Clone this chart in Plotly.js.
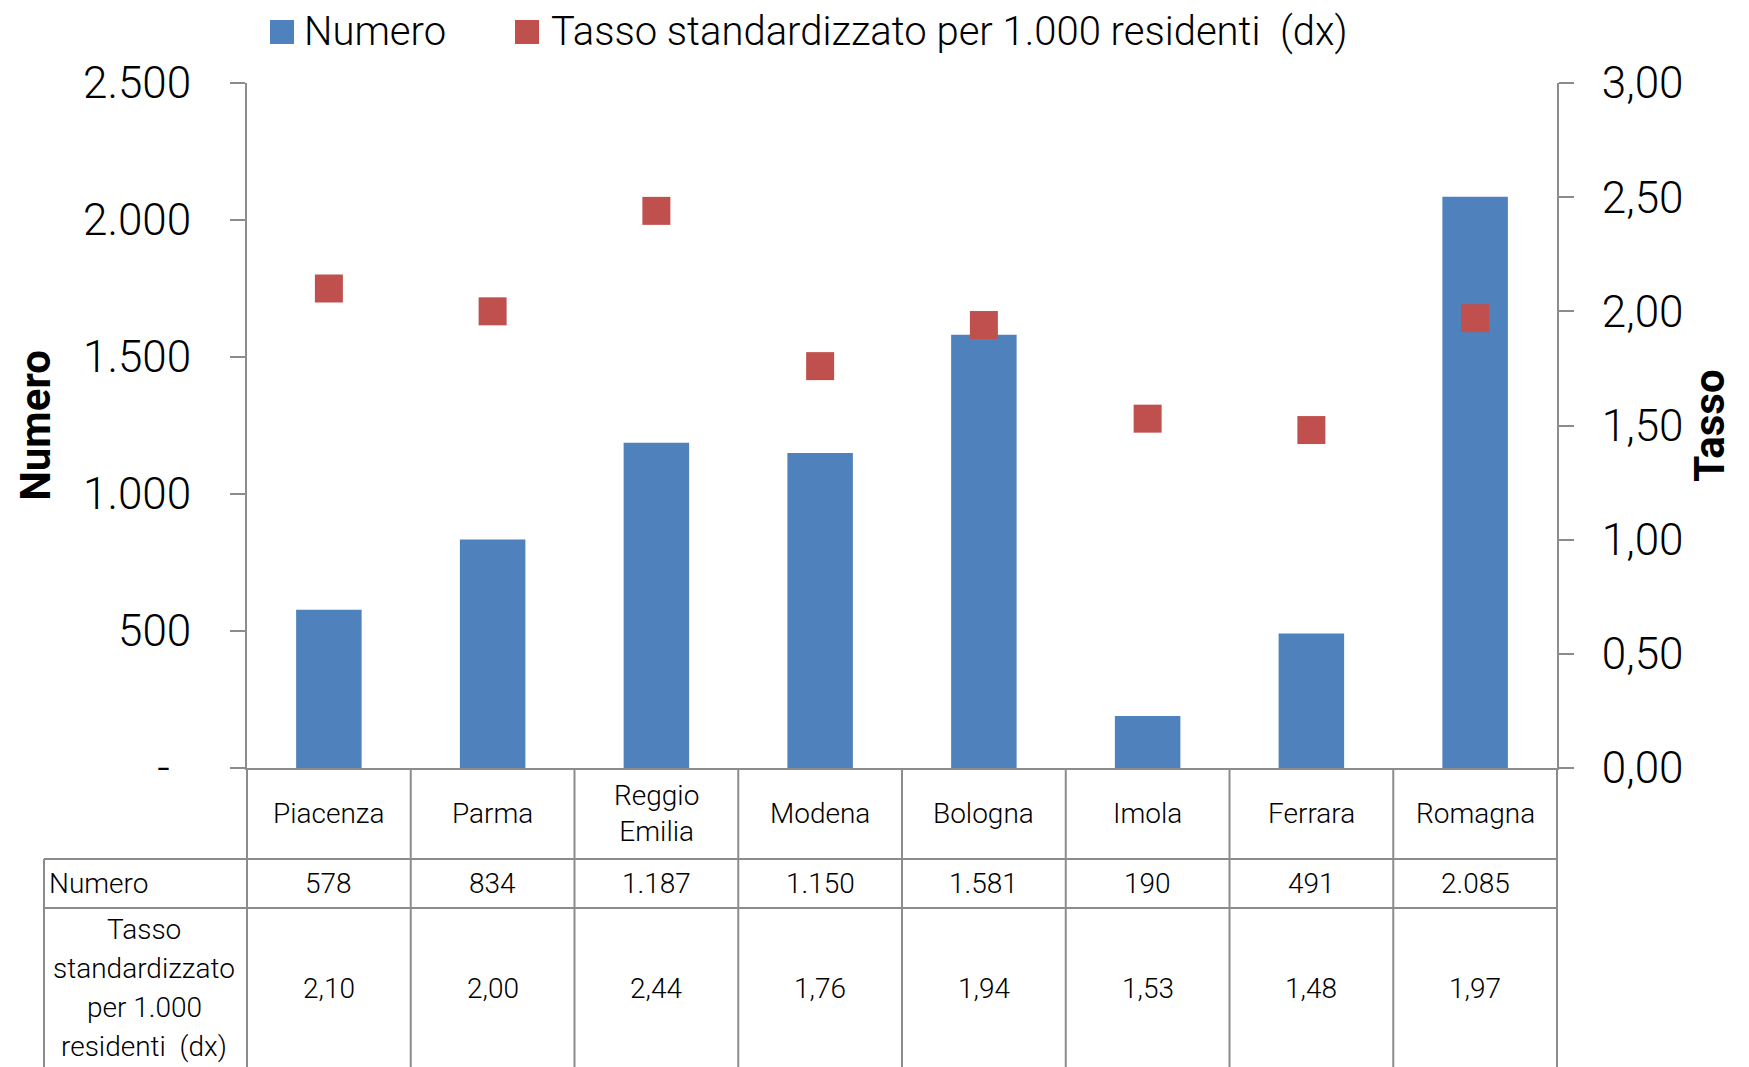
<!DOCTYPE html>
<html>
<head>
<meta charset="utf-8">
<script src="https://cdn.plot.ly/plotly-3.0.1.min.js"></script>
<style>html,body{margin:0;padding:0;background:#fff;}</style>
</head>
<body>
<div id="chart" style="width:1749px;height:1067px;"></div>
<script>
// ---- Data ----
const categories = ['Piacenza', 'Parma', 'Reggio Emilia', 'Modena', 'Bologna', 'Imola', 'Ferrara', 'Romagna'];
const numero = [578, 834, 1187, 1150, 1581, 190, 491, 2085];
const tasso = [2.10, 2.00, 2.44, 1.76, 1.94, 1.53, 1.48, 1.97];
const seriesNames = ['Numero', 'Tasso standardizzato per 1.000 residenti  (dx)'];
const rowLabelNumero = 'Numero';
const rowLabelTassoLines = ['Tasso', 'standardizzato', 'per 1.000', 'residenti  (dx)'];
const leftTickVals = [0, 500, 1000, 1500, 2000, 2500];
const leftTickText = ['-\u00a0\u00a0', '500', '1.000', '1.500', '2.000', '2.500'];
const rightTickVals = [0, 0.5, 1, 1.5, 2, 2.5, 3];
const rightTickText = ['0,00', '0,50', '1,00', '1,50', '2,00', '2,50', '3,00'];
const axisTitles = ['Numero', 'Tasso'];

// ---- Styles ----
const BLUE = '#4F81BD';
const RED = '#C0504D';
const GRID = '#8c8c8c';
const FONT = 'Roboto, "Open Sans", Arial, sans-serif';

function fmtInt(v) { return String(v).replace(/\B(?=(\d{3})+(?!\d))/g, '.'); }
function fmtDec(v) { return v.toFixed(2).replace('.', ','); }

// page geometry
const W = 1749, H = 1067;
const M = {l: 247, r: 192, t: 83, b: 299};
const plotW = W - M.l - M.r, plotH = H - M.t - M.b;
const plotBottom = M.t + plotH;
const py = (px) => (plotBottom - px) / plotH;   // pixel y -> paper y
const pxx = (px) => (px - M.l) / plotW;          // pixel x -> paper x

const rowTop = 768, rowHeadBottom = 859, rowNumBottom = 908, tableBottom = 1067;
const labelColLeft = 44;
const tassoRowCenter = 988, tassoLineGap = 39;

const traces = [
  {
    type: 'bar', x: categories, y: numero, name: seriesNames[0],
    marker: {color: BLUE, line: {width: 0}}, yaxis: 'y', showlegend: false,
    hoverinfo: 'x+y'
  },
  {
    type: 'scatter', mode: 'markers', x: categories, y: tasso, name: seriesNames[1],
    marker: {symbol: 'square', size: 28, color: RED, line: {width: 0}}, yaxis: 'y2',
    showlegend: false, cliponaxis: false
  }
];

const shapes = [];
const annotations = [];
const n = categories.length;
// vertical table lines at category boundaries
for (let i = 0; i <= n; i++) {
  shapes.push({type: 'line', xref: 'paper', yref: 'paper', x0: i / n, x1: i / n,
    y0: py(rowTop), y1: py(tableBottom), line: {color: GRID, width: 2}});
}
// left border of label column
shapes.push({type: 'line', xref: 'paper', yref: 'paper', x0: pxx(labelColLeft), x1: pxx(labelColLeft),
  y0: py(rowHeadBottom), y1: py(tableBottom), line: {color: GRID, width: 2}});
// horizontal table lines
[rowHeadBottom, rowNumBottom].forEach(yy => {
  shapes.push({type: 'line', xref: 'paper', yref: 'paper', x0: pxx(labelColLeft), x1: 1,
    y0: py(yy), y1: py(yy), line: {color: GRID, width: 2}});
});

const cellFont = {family: FONT, size: 28, color: '#000', weight: 300};
categories.forEach((c, i) => {
  annotations.push({xref: 'x', yref: 'paper', x: c, y: py((rowTop + rowHeadBottom) / 2),
    text: c.replace(' ', '<br>'), showarrow: false, font: cellFont, xanchor: 'center', yanchor: 'middle'});
  annotations.push({xref: 'x', yref: 'paper', x: c, y: py((rowHeadBottom + rowNumBottom) / 2),
    text: fmtInt(numero[i]), showarrow: false, font: cellFont, xanchor: 'center', yanchor: 'middle'});
  annotations.push({xref: 'x', yref: 'paper', x: c, y: py(tassoRowCenter),
    text: fmtDec(tasso[i]), showarrow: false, font: cellFont, xanchor: 'center', yanchor: 'middle'});
});
annotations.push({xref: 'paper', yref: 'paper', x: pxx(labelColLeft + 3), y: py((rowHeadBottom + rowNumBottom) / 2),
  text: rowLabelNumero, showarrow: false, font: cellFont, xanchor: 'left', yanchor: 'middle'});
rowLabelTassoLines.forEach((t, k) => {
  const yy = tassoRowCenter + (k - (rowLabelTassoLines.length - 1) / 2) * tassoLineGap;
  annotations.push({xref: 'paper', yref: 'paper', x: pxx(144), y: py(yy),
    text: t, showarrow: false, font: cellFont, xanchor: 'center', yanchor: 'middle'});
});

// custom legend (large square keys)
const legFont = {family: FONT, size: 40, color: '#000', weight: 300};
const legendItems = [
  {name: seriesNames[0], color: BLUE, x0: 270, textX: 302},
  {name: seriesNames[1], color: RED, x0: 515, textX: 549}
];
legendItems.forEach(it => {
  shapes.push({type: 'rect', xref: 'paper', yref: 'paper', x0: pxx(it.x0), x1: pxx(it.x0 + 24),
    y0: py(44), y1: py(20), fillcolor: it.color, line: {width: 0}});
  annotations.push({xref: 'paper', yref: 'paper', x: pxx(it.textX), y: py(31), text: it.name,
    showarrow: false, font: legFont, xanchor: 'left', yanchor: 'middle'});
});

const layout = {
  width: W, height: H, autosize: false,
  margin: M,
  paper_bgcolor: '#fff', plot_bgcolor: '#fff',
  showlegend: false,
  bargap: 0.6,
  font: {family: FONT, color: '#000'},
  xaxis: {
    type: 'category', showticklabels: false, ticks: '', showgrid: false, zeroline: false,
    showline: true, linecolor: GRID, linewidth: 2, range: [-0.5, n - 0.5], fixedrange: true
  },
  yaxis: {
    range: [0, 2500], tickvals: leftTickVals, ticktext: leftTickText,
    ticks: 'outside', ticklen: 15, tickwidth: 2, tickcolor: GRID,
    showline: true, linecolor: GRID, linewidth: 2, showgrid: false, zeroline: false,
    tickfont: {family: FONT, size: 44, color: '#000', weight: 300},
    ticklabelstandoff: 30,
    title: {text: axisTitles[0], font: {family: FONT, size: 42, color: '#000', weight: 'bold'}, standoff: 19}
  },
  yaxis2: {
    overlaying: 'y', side: 'right', range: [0, 3], tickvals: rightTickVals, ticktext: rightTickText,
    ticks: 'outside', ticklen: 15, tickwidth: 2, tickcolor: GRID,
    showline: true, linecolor: GRID, linewidth: 2, showgrid: false, zeroline: false,
    tickfont: {family: FONT, size: 44, color: '#000', weight: 300},
    ticklabelstandoff: 19,
    title: {text: axisTitles[1], font: {family: FONT, size: 42, color: '#000', weight: 'bold'}, standoff: 12}
  },
  shapes: shapes,
  annotations: annotations
};

Plotly.newPlot('chart', traces, layout, {displayModeBar: false, staticPlot: true});
</script>
</body>
</html>
